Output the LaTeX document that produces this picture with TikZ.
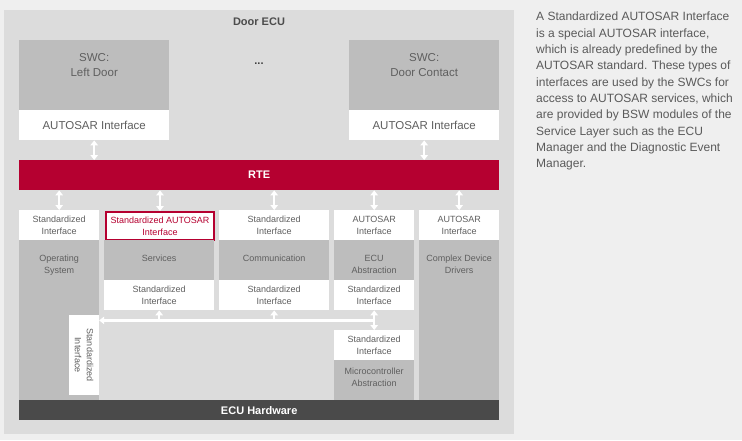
\documentclass[tikz,border=0pt]{standalone}
\usepackage{fontspec}
\setmainfont{Liberation Sans}
\usepackage{xcolor}
\usetikzlibrary{arrows.meta,positioning}
\definecolor{dcpage}{RGB}{239,239,239}
\definecolor{dcpanel}{RGB}{220,220,220}
\definecolor{dcgrey}{RGB}{189,189,189}
\definecolor{dcred}{RGB}{181,0,48}
\definecolor{dchw}{RGB}{74,74,74}
\definecolor{dctxt}{RGB}{95,95,95}
\definecolor{dcnote}{RGB}{90,90,90}
\tikzset{
  blk/.style={
    anchor=north west, inner sep=0pt, align=center,
    font=\fontsize{9}{12}\selectfont, text=dctxt
  },
  panel/.style={blk, fill=dcpanel},
  gbox/.style={blk, fill=dcgrey},
  wbox/.style={blk, fill=white, minimum height=30pt},
  sabox/.style={blk, fill=white, draw=dcred, line width=2pt, text=dcred},
  gtxt/.style={anchor=north, inner sep=0pt, align=center,
    font=\fontsize{9}{12}\selectfont, text=dctxt},
  swcfont/.style={font=\fontsize{11.5}{15}\selectfont},
  bar/.style={blk, text=white, font=\fontsize{11}{13}\selectfont\bfseries},
  rte/.style={bar, fill=dcred},
  hw/.style={bar, fill=dchw},
  title/.style={inner sep=0pt, font=\fontsize{11}{13}\selectfont\bfseries, text=black!70},
  note/.style={anchor=north west, inner sep=0pt, align=left,
    font=\fontsize{12}{16.3}\selectfont, text=dcnote},
  dar/.style={{Triangle[length=5pt,width=7.5pt]}-{Triangle[length=5pt,width=7.5pt]},
    draw=white, line width=2.2pt},
  sar/.style={-{Triangle[length=5pt,width=7.5pt]}, draw=white, line width=2.2pt}
}

\begin{document}
\begin{tikzpicture}[x=1pt,y=-1pt]
  \useasboundingbox[fill=dcpage] (0,0) rectangle (742,440);
  \node[panel, minimum width=510pt, minimum height=424pt] (ecu) at (4,10) {};
  \node[title] (ecut) at (259,22) {Door ECU};

  % software components
  \node[gbox, minimum width=150pt, minimum height=70pt] (swcl) at (19,40) {};
  \node[gtxt, swcfont] (swclt) at ([yshift=-13pt]swcl.north) {SWC:\\Left Door};
  \node[wbox, swcfont, minimum width=150pt] (swcli) at (19,110) {AUTOSAR Interface};
  \node[gbox, minimum width=150pt, minimum height=70pt] (swcr) at (349,40) {};
  \node[gtxt, swcfont] (swcrt) at ([yshift=-13pt]swcr.north) {SWC:\\Door Contact};
  \node[wbox, swcfont, minimum width=150pt] (swcri) at (349,110) {AUTOSAR Interface};
  \node[title, text=black!75] (dots) at (259,64) {...};

  \node[rte, minimum width=480pt, minimum height=30pt] (rte) at (19,160) {RTE};
  \draw[dar] (swcli.south) -- (swcli.south |- rte.north);
  \draw[dar] (swcri.south) -- (swcri.south |- rte.north);

  % basic software columns
  \node[wbox, minimum width=80pt] (osif) at (19,210) {Standardized\\Interface};
  \node[gbox, minimum width=80pt, minimum height=160pt] (os) at (19,240) {};
  \node[gtxt] (ostx) at ([yshift=-15pt]os.north) {Operating\\System};

  \node[sabox, minimum width=108pt, minimum height=28pt] (svif) at (105,211)
    {Standardized AUTOSAR\\Interface};
  \node[gbox, minimum width=110pt, minimum height=40pt] (sv) at (104,240) {};
  \node[gtxt] (svtx) at ([yshift=-15pt]sv.north) {Services};
  \node[wbox, minimum width=110pt] (svsi) at (104,280) {Standardized\\Interface};

  \node[wbox, minimum width=110pt] (cmif) at (219,210) {Standardized\\Interface};
  \node[gbox, minimum width=110pt, minimum height=40pt] (cm) at (219,240) {};
  \node[gtxt] (cmtx) at ([yshift=-15pt]cm.north) {Communication};
  \node[wbox, minimum width=110pt] (cmsi) at (219,280) {Standardized\\Interface};

  \node[wbox, minimum width=80pt] (eaif) at (334,210) {AUTOSAR\\Interface};
  \node[gbox, minimum width=80pt, minimum height=40pt] (ea) at (334,240) {};
  \node[gtxt] (eatx) at ([yshift=-15pt]ea.north) {ECU\\Abstraction};
  \node[wbox, minimum width=80pt] (easi) at (334,280) {Standardized\\Interface};

  \node[wbox, minimum width=80pt] (mcsi) at (334,330) {Standardized\\Interface};
  \node[gbox, minimum width=80pt, minimum height=40pt] (mc) at (334,360) {};
  \node[gtxt] (mctx) at ([yshift=-8pt]mc.north) {Microcontroller\\Abstraction};

  \node[wbox, minimum width=80pt] (cdif) at (419,210) {AUTOSAR\\Interface};
  \node[gbox, minimum width=80pt, minimum height=160pt] (cd) at (419,240) {};
  \node[gtxt] (cdtx) at ([yshift=-15pt]cd.north) {Complex Device\\Drivers};

  \node[wbox, anchor=center, rotate=-90, minimum width=80pt, minimum height=30pt]
    (osrot) at (84,355) {Standardized\\Interface};

  \node[hw, minimum width=480pt, minimum height=20pt] (hw) at (19,400) {ECU Hardware};

  % interface arrows
  \foreach \t in {osif,svif,cmif,eaif,cdif}
    \draw[dar] (rte.south -| \t.north) -- (\t.north);
  \coordinate (bus) at ([yshift=-10pt]easi.south);
  \draw[sar] (bus) -- (bus -| osrot.north);
  \draw[sar] (svsi.south |- bus) -- (svsi.south);
  \draw[sar] (cmsi.south |- bus) -- (cmsi.south);
  \draw[dar] (easi.south) -- (mcsi.north);

  \node[note] (txt) at (536,12) {A Standardized AUTOSAR Interface\\
    is a special AUTOSAR interface,\\
    which is already predefined by the\\
    AUTOSAR standard. These types of\\
    interfaces are used by the SWCs for\\
    access to AUTOSAR services, which\\
    are provided by BSW modules of the\\
    Service Layer such as the ECU\\
    Manager and the Diagnostic Event\\
    Manager.};
\end{tikzpicture}
\end{document}
